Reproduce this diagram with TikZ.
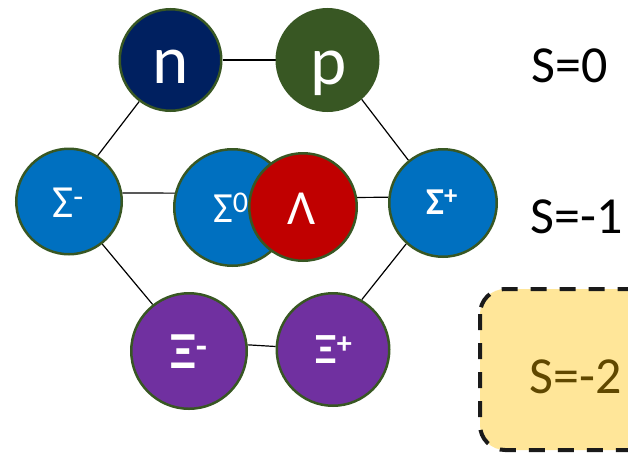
\documentclass[tikz,border=0pt]{standalone}
\usepackage{fontspec}
\setmainfont{Carlito}
\usetikzlibrary{backgrounds}
\definecolor{nblue}{HTML}{002060}
\definecolor{pgreen}{HTML}{385723}
\definecolor{sblue}{HTML}{0070C0}
\definecolor{lred}{HTML}{C00000}
\definecolor{xpurple}{HTML}{7030A0}
\definecolor{boxfill}{HTML}{FFE699}
\definecolor{boxtext}{RGB}{96,72,0}
\definecolor{boxline}{HTML}{1A1A1A}
\newcommand{\fsz}[1]{\fontsize{#1}{#1}\selectfont}
\begin{document}
\begin{tikzpicture}[x=1pt,y=-1pt,
  particle/.style={circle, draw=pgreen, line width=2.5pt, inner sep=0pt, minimum size=#1},
  lbl/.style={anchor=base, text=white, inner sep=0pt},
  link/.style={draw=black, line width=1.2pt},
  level/.style={anchor=base, inner sep=0pt}]
\useasboundingbox (0,0) rectangle (628,455);
\clip (0,0) rectangle (628,455);
% circles
\node[particle=101.5, fill=nblue] (n) at (170.5,60) {};
\node[particle=101.5, fill=pgreen] (p) at (327.5,60) {};
\node[particle=105.5, fill=sblue] (sm) at (69,201.5) {};
\node[particle=116.5, fill=sblue] (s0) at (232.5,207.5) {};
\node[particle=107.5, fill=lred] (lam) at (303,207) {};
\node[particle=107.5, fill=sblue] (sp) at (443,203) {};
\node[particle=115.5, fill=xpurple] (xm) at (189,351) {};
\node[particle=112.5, fill=xpurple] (xp) at (333,349.5) {};
% labels
\node[lbl] (tn) at (170.5,83) {\fsz{69}n};
\node[lbl] (tp) at (329,84) {\fsz{69}p};
\node[lbl] (tsm) at (68,217) {\fsz{46}Σ\textsuperscript{-}};
\node[lbl] (ts0) at (231,222) {\fsz{43}Σ\textsuperscript{0}};
\node[lbl] (tlam) at (302,224) {\fsz{49}Λ};
\node[lbl] (tsp) at (442,214) {\fsz{38}\bfseries Σ\textsuperscript{+}};
\node[lbl] (txm) at (189,368) {\fsz{52}\bfseries Ξ\textsuperscript{-}};
\node[lbl] (txp) at (334,363) {\fsz{43}\bfseries Ξ\textsuperscript{+}};
% connectors
\begin{scope}[on background layer]
\draw[link] (n.east) -- (p.west);
\draw[link] (n.233) -- (sm.58);
\draw[link] (p.311) -- (sp.129);
\draw[link] (sm.9) -- (s0.166);
\draw[link] (lam.10) -- (sp.174);
\draw[link] (sm.308) -- (xm.128);
\draw[link] (sp.228) -- (xp.60);
\draw[link] (xm.6) -- (xp.177);
\end{scope}
% strangeness levels
\node[level] (s0lvl) at (569.5,82) {\fsz{52}S=0};
\node[level] (s1lvl) at (577,233) {\fsz{52}S=-1};
\draw[draw=boxline, fill=boxfill, line width=4pt, dash pattern=on 16pt off 13pt, rounded corners=25pt]
  (480,289) rectangle (700,450);
\node[level, text=boxtext] (s2lvl) at (576,393) {\fsz{52}S=-2};
\end{tikzpicture}
\end{document}
